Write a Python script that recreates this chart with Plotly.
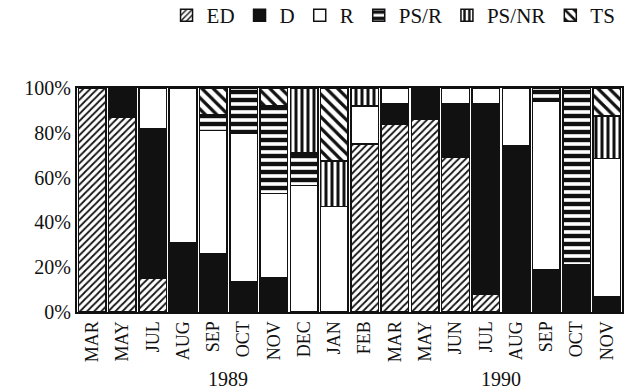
import plotly.graph_objects as go

months = ["MAR", "MAY", "JUL", "AUG", "SEP", "OCT", "NOV", "DEC", "JAN",
          "FEB", "MAR", "MAY", "JUN", "JUL", "AUG", "SEP", "OCT", "NOV"]
positions = list(range(len(months)))
years = ["1989", "1990"]
year_pos = [4.5, 13.5]
y_ticks = [0, 20, 40, 60, 80, 100]
y_labels = ["0%", "20%", "40%", "60%", "80%", "100%"]

ED =   [100, 87, 15, 0, 0, 0, 0, 0, 0, 75, 84, 86, 69, 8, 0, 0, 0, 0]
D =    [0, 13, 67, 31, 26, 13.5, 15.5, 0, 0, 0, 9, 14, 24, 85, 74, 19, 21, 7]
R =    [0, 0, 18, 69, 55, 66.5, 37.5, 56.5, 47, 17, 7, 0, 7, 7, 26, 75, 0, 61.5]
PS_R = [0, 0, 0, 0, 7, 20, 39, 14.5, 0, 0, 0, 0, 0, 0, 0, 6, 79, 0]
PS_NR =[0, 0, 0, 0, 0, 0, 0, 29, 20.5, 8, 0, 0, 0, 0, 0, 0, 0, 19]
TS =   [0, 0, 0, 0, 12, 0, 8, 0, 32.5, 0, 0, 0, 0, 0, 0, 0, 0, 12.5]

series = [
    ("ED", ED, dict(shape="/", size=5, solidity=0.35)),
    ("D", D, None),
    ("R", R, dict(shape="")),
    ("PS/R", PS_R, dict(shape="-", size=8, solidity=0.55)),
    ("PS/NR", PS_NR, dict(shape="|", size=6, solidity=0.5)),
    ("TS", TS, dict(shape="\\", size=8, solidity=0.4)),
]

fig = go.Figure()
for name, vals, pat in series:
    if pat is None:
        marker = dict(color="#111111", line=dict(color="#111111", width=1.5))
    else:
        p = dict(pat)
        p.update(fgcolor="#111111", bgcolor="white", fillmode="replace")
        marker = dict(color="white", pattern=p, line=dict(color="#111111", width=1.5))
    fig.add_trace(go.Bar(x=positions, y=vals, name=name, marker=marker))

font = "Liberation Serif, Times New Roman, serif"
fig.update_layout(
    width=630, height=390,
    barmode="stack", bargap=0.09,
    paper_bgcolor="white", plot_bgcolor="white",
    margin=dict(l=77, r=6, t=88, b=78),
    font=dict(family=font, size=20, color="#111111"),
    showlegend=True,
    legend=dict(orientation="h", xref="container", yref="container",
                x=0.985, xanchor="right", y=0.96, yanchor="middle",
                traceorder="normal", font=dict(size=21), itemwidth=30),
    xaxis=dict(tickmode="array", tickvals=positions, ticktext=months,
               tickangle=-90, range=[-0.5, 17.5], showgrid=False,
               showline=True, linecolor="#111111", linewidth=2, mirror=True,
               tickfont=dict(size=18), ticks=""),
    yaxis=dict(range=[0, 100], tickmode="array", tickvals=y_ticks, ticktext=y_labels,
               showgrid=False, zeroline=False,
               showline=True, linecolor="#111111", linewidth=2, mirror=True,
               tickfont=dict(size=20), ticks=""),
)
for yr, xp in zip(years, year_pos):
    fig.add_annotation(x=xp, y=0, xref="x", yref="paper", text=yr,
                       showarrow=False, yanchor="middle", yshift=-67,
                       font=dict(size=20))

fig.write_html("out.html")
